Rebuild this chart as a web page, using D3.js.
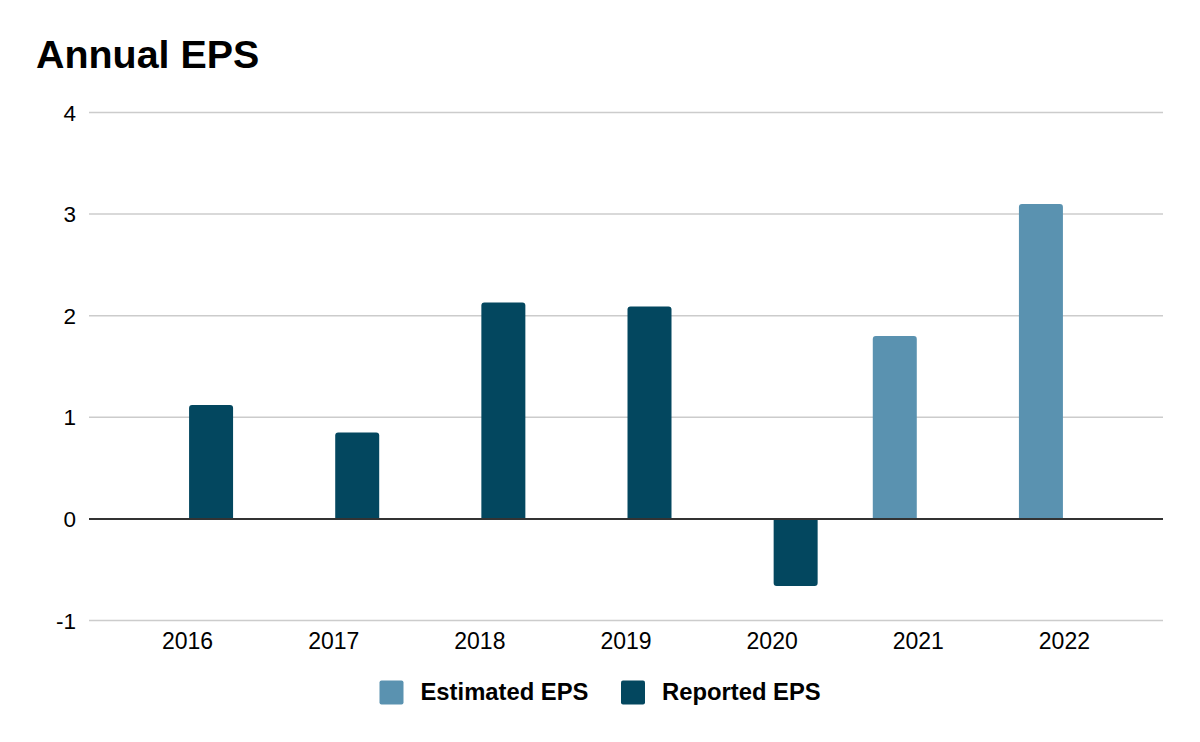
<!DOCTYPE html>
<html>
<head>
<meta charset="utf-8">
<script src="https://cdnjs.cloudflare.com/ajax/libs/d3/7.8.5/d3.min.js"></script>
<style>
  body { margin: 0; background: #fff; }
  text { font-family: "Liberation Sans", Arial, sans-serif; }
</style>
</head>
<body>
<div id="chart-area"></div>
<script>
// data
var years = ["2016", "2017", "2018", "2019", "2020", "2021", "2022"];
var seriesNames = ["Estimated EPS", "Reported EPS"];
var estimatedEps = [null, null, null, null, null, 1.80, 3.10];
var reportedEps = [1.12, 0.85, 2.13, 2.09, -0.66, null, null];
var yTicks = [-1, 0, 1, 2, 3, 4];
var colors = ["#5a92b0", "#03475f"];

var W = 1200, H = 742;
var margin = { left: 89, right: 37, top: 112, bottom: 122 };

var svg = d3.select("#chart-area")
	.append("svg")
	.attr("width", W)
	.attr("height", H);

// title
svg.append("text")
	.attr("x", 36)
	.attr("y", 68)
	.attr("font-size", "39.4px")
	.attr("font-weight", "bold")
	.attr("fill", "#000")
	.text("Annual EPS");

var x = d3.scaleBand()
	.domain(years)
	.range([margin.left + 25.5, W - margin.right - 25.5])
	.padding(0);

// two slots per year, estimated on the left, reported on the right
var x1 = d3.scaleBand()
	.domain(seriesNames)
	.range([-45.5, 45.5])
	.paddingInner(0.064);

var y = d3.scaleLinear()
	.domain([-1, 4])
	.range([620.5, 112.5]);

// gridlines
svg.append("g")
	.selectAll("line")
	.data(yTicks.filter(function(d){ return d !== 0; }))
	.enter()
	.append("line")
		.attr("x1", margin.left)
		.attr("x2", W - margin.right)
		.attr("y1", function(d){ return y(d); })
		.attr("y2", function(d){ return y(d); })
		.attr("stroke", "#cccccc")
		.attr("stroke-width", 1.5);

// y labels
svg.append("g")
	.selectAll("text")
	.data(yTicks)
	.enter()
	.append("text")
		.attr("x", 76)
		.attr("y", function(d){ return y(d); })
		.attr("dy", "0.36em")
		.attr("text-anchor", "end")
		.attr("font-size", "22.5px")
		.attr("fill", "#000")
		.text(function(d){ return d; });

// x labels
svg.append("g")
	.selectAll("text")
	.data(years)
	.enter()
	.append("text")
		.attr("x", function(d){ return x(d) + x.bandwidth() / 2; })
		.attr("y", 649)
		.attr("text-anchor", "middle")
		.attr("font-size", "23px")
		.attr("fill", "#000")
		.text(function(d){ return d; });

// bars: rounded at the far end only
function barPath(x0, w, v) {
	var r = 3;
	var y0 = y(0), y1 = y(v);
	var s = v >= 0 ? 1 : -1;
	return "M" + x0 + "," + y0 +
		"V" + (y1 + s * r) +
		"Q" + x0 + "," + y1 + " " + (x0 + r) + "," + y1 +
		"H" + (x0 + w - r) +
		"Q" + (x0 + w) + "," + y1 + " " + (x0 + w) + "," + (y1 + s * r) +
		"V" + y0 + "Z";
}

var barData = [];
years.forEach(function(yr, i){
	if (estimatedEps[i] !== null) barData.push({ year: yr, series: seriesNames[0], value: estimatedEps[i], color: colors[0] });
	if (reportedEps[i] !== null) barData.push({ year: yr, series: seriesNames[1], value: reportedEps[i], color: colors[1] });
});

svg.append("g")
	.selectAll("path")
	.data(barData)
	.enter()
	.append("path")
		.attr("d", function(d){
			var cx = x(d.year) + x.bandwidth() / 2;
			return barPath(cx + x1(d.series), x1.bandwidth(), d.value);
		})
		.attr("fill", function(d){ return d.color; });

// zero line
svg.append("line")
	.attr("x1", margin.left)
	.attr("x2", W - margin.right)
	.attr("y1", y(0))
	.attr("y2", y(0))
	.attr("stroke", "#333333")
	.attr("stroke-width", 2);

// legend
var legendX = [379.5, 621];
var legend = svg.append("g")
	.selectAll("g")
	.data(seriesNames)
	.enter()
	.append("g")
		.attr("transform", function(d, i){ return "translate(" + legendX[i] + ",680.5)"; });

legend.append("rect")
	.attr("width", 24)
	.attr("height", 24)
	.attr("rx", 2)
	.attr("fill", function(d, i){ return colors[i]; });

legend.append("text")
	.attr("x", 41)
	.attr("y", 19)
	.attr("font-size", "23.8px")
	.attr("font-weight", "bold")
	.attr("fill", "#000")
	.text(function(d){ return d; });
</script>
</body>
</html>
